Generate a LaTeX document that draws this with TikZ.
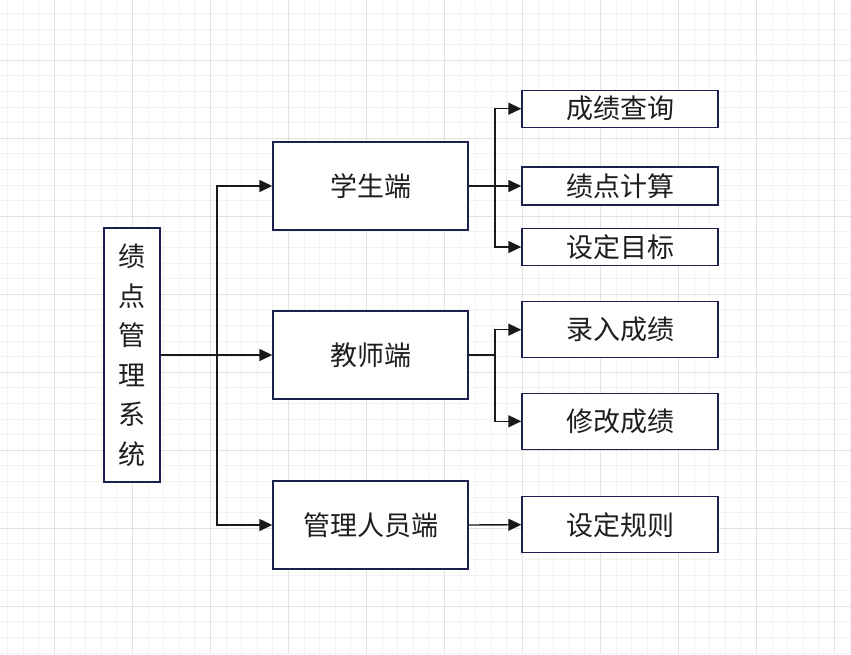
\documentclass[tikz,border=0pt]{standalone}
\usepackage{fontspec}
\newfontfamily\cjk{Noto Sans CJK SC}
\usetikzlibrary{arrows.meta}
\definecolor{boxc}{RGB}{28,32,78}
\definecolor{txtc}{RGB}{30,30,30}
\definecolor{gmin}{RGB}{242,242,242}
\definecolor{gmaj}{RGB}{226,226,226}
\tikzset{
  box/.style={draw=boxc, line width=1.4pt, fill=white, inner sep=0pt, text=txtc, font=\cjk\fontsize{27}{39.5}\selectfont},
  conn/.style={draw=black!90, line width=1.4pt},
  arr/.style={conn, -{Triangle[length=13pt,width=12pt]}},
  gminor/.style={draw=gmin, line width=0.8pt},
  gmajor/.style={draw=gmaj, line width=1pt}
}
\begin{document}
\begin{tikzpicture}[x=1pt,y=-1pt]
\useasboundingbox (0,0) rectangle (851,654);
\fill[white] (0,0) rectangle (851,654);
% grid
\foreach \i in {0,...,54} {\draw[gminor] (7.5+\i*15.6,0) -- (7.5+\i*15.6,654);}
\foreach \i in {0,...,42} {\draw[gminor] (0,-2.2+\i*15.6) -- (851,-2.2+\i*15.6);}
\foreach \i in {0,...,10} {\draw[gmajor] (54.3+\i*78,0) -- (54.3+\i*78,654);}
\foreach \i in {0,...,8} {\draw[gmajor] (0,60.8+\i*78) -- (851,60.8+\i*78);}
% nodes
\node[box, minimum width=56pt, minimum height=254pt, align=center] (main) at (132,355) {绩\\点\\管\\理\\系\\统};
\node[box, minimum width=195pt, minimum height=88pt] (stu) at (370.5,186) {学生端};
\node[box, minimum width=195pt, minimum height=88pt] (tea) at (370.5,355) {教师端};
\node[box, minimum width=195pt, minimum height=88pt] (adm) at (370.5,525) {管理人员端};
\node[box, minimum width=196pt, minimum height=37pt] (r1) at (620,108.7) {成绩查询};
\node[box, minimum width=196pt, minimum height=38pt] (r2) at (620,186) {绩点计算};
\node[box, minimum width=196pt, minimum height=37.5pt] (r3) at (620,247) {设定目标};
\node[box, minimum width=196pt, minimum height=56pt] (r4) at (620,329.7) {录入成绩};
\node[box, minimum width=196pt, minimum height=56pt] (r5) at (620,421.3) {修改成绩};
\node[box, minimum width=196pt, minimum height=56pt] (r6) at (620,524.7) {设定规则};
% connectors
\coordinate (t) at (217,355);
\coordinate (sb) at (495,186);
\coordinate (tb) at (495,355);
\draw[conn] (t |- stu.west) -- (t |- adm.west);
\draw[arr] (main.east) -- (tea.west);
\draw[arr] (t) |- (stu.west);
\draw[arr] (t) |- (adm.west);
\draw[conn] (stu.east) -- (sb);
\draw[conn] (sb |- r1.west) -- (sb |- r3.west);
\draw[arr] (sb) |- (r1.west);
\draw[arr] (sb) -- (r2.west);
\draw[arr] (sb) |- (r3.west);
\draw[conn] (tea.east) -- (tb);
\draw[conn] (tb |- r4.west) -- (tb |- r5.west);
\draw[arr] (tb) |- (r4.west);
\draw[arr] (tb) |- (r5.west);
\draw[arr] (adm.east) -- (r6.west);
\end{tikzpicture}
\end{document}
